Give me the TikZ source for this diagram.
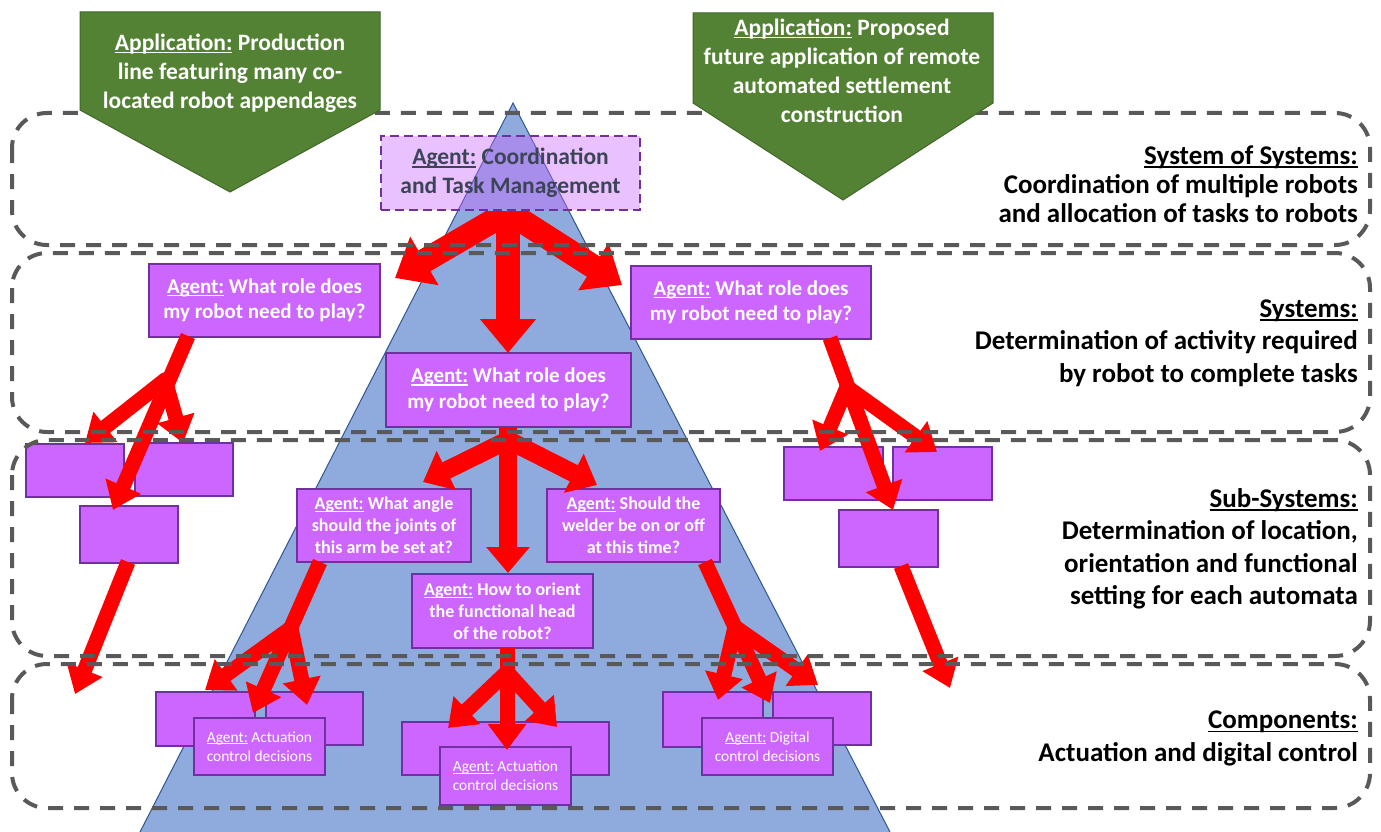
\documentclass[tikz,border=0pt]{standalone}
\usepackage{fontspec}
\setmainfont{Carlito}
\usetikzlibrary{arrows.meta}

\definecolor{tri}{HTML}{8FAADC}
\definecolor{triedge}{HTML}{2F5597}
\definecolor{agentfill}{HTML}{CC66FF}
\definecolor{agentedge}{HTML}{7030A0}
\definecolor{appgreen}{HTML}{548235}
\definecolor{appedge}{HTML}{41672A}
\definecolor{layergray}{HTML}{595959}
\definecolor{arrowred}{HTML}{FF0000}
\definecolor{slate}{HTML}{3B4556}

% underline drawn just under the baseline
\newcommand\ulin[1]{\setbox0\hbox{#1}\rlap{\rule[-0.13em]{\wd0}{0.065em}}\box0\relax}

\newcommand\appfont{\fontsize{23.5}{29}\selectfont\bfseries}
\newcommand\sysfont{\fontsize{21}{25.5}\selectfont\bfseries}
\newcommand\subfont{\fontsize{18}{21.8}\selectfont\bfseries}
\newcommand\compfont{\fontsize{15.4}{19}\selectfont}
\newcommand\lblfont{\fontsize{27}{32.5}\selectfont\bfseries}

\begin{document}
\begin{tikzpicture}[x=1pt,y=-1pt,
  agent/.style={draw=agentedge, fill=agentfill, line width=1.5pt, inner sep=0pt,
                text=white, align=center},
  topagent/.style={draw=agentedge, fill=agentfill, fill opacity=0.4, text opacity=1,
                   line width=2.2pt, dash pattern=on 9pt off 5pt, inner sep=0pt,
                   text=slate, align=center, font=\appfont},
  apptext/.style={text=white, align=center, font=\appfont, inner sep=0pt},
  lbl/.style={text=black, align=right, font=\lblfont, inner sep=0pt, anchor=east},
  layer/.style={draw=layergray, line width=4pt, dash pattern=on 15pt off 11pt,
                rounded corners=35pt},
  bigarrow/.style={draw=arrowred, line width=24pt, -{Triangle[width=54pt,length=34pt]}},
  midarrow/.style={draw=arrowred, line width=18pt, -{Triangle[width=42pt,length=26pt]}},
  smallarrow/.style={draw=arrowred, line width=15pt, -{Triangle[width=37pt,length=26pt]}},
  branch/.style={line cap=round},
]
\useasboundingbox (0,0) rectangle (1381,832);
\fill[white] (0,0) rectangle (1381,832);

% hierarchy pyramid
\fill[tri] (513,103) -- (890,832) -- (140,832) -- cycle;
\draw[triedge, line width=1pt] (140,832) -- (513,103) -- (890,832);

% ---- agent boxes ----
\node[topagent, minimum width=259pt, minimum height=74pt] (coord) at (510.5,173)
  {\ulin{Agent:} Coordination\\and Task Management};

\node[agent, font=\sysfont, minimum width=231pt, minimum height=73pt] (sysL) at (264.5,300.5)
  {\ulin{Agent:} What role does\\my robot need to play?};
\node[agent, font=\sysfont, minimum width=240pt, minimum height=73pt] (sysR) at (751,302.5)
  {\ulin{Agent:} What role does\\my robot need to play?};
\node[agent, font=\sysfont, minimum width=245pt, minimum height=74pt] (sysC) at (508.5,390)
  {\ulin{Agent:} What role does\\my robot need to play?};

% sub-system boxes, left robot
\node[agent, minimum width=98pt, minimum height=53pt] (subA) at (75,470.5) {};
\node[agent, minimum width=98pt, minimum height=53pt] (subB) at (184,469.5) {};
\node[agent, minimum width=98pt, minimum height=57pt] (subC) at (129,534.5) {};
% sub-system boxes, right robot
\node[agent, minimum width=99pt, minimum height=53pt] (subD) at (833.5,473.5) {};
\node[agent, minimum width=99pt, minimum height=53pt] (subE) at (942.5,473.5) {};
\node[agent, minimum width=99pt, minimum height=57pt] (subF) at (888.5,538.5) {};
% sub-system boxes, centre robot
\node[agent, font=\subfont, minimum width=174pt, minimum height=73pt] (angle) at (384,525.5)
  {\ulin{Agent:} What angle\\should the joints of\\this arm be set at?};
\node[agent, font=\subfont, minimum width=173pt, minimum height=73pt] (weld) at (633.5,525.5)
  {\ulin{Agent:} Should the\\welder be on or off\\at this time?};
\node[agent, font=\subfont, minimum width=181pt, minimum height=74pt] (orient) at (502.5,611)
  {\ulin{Agent:} How to orient\\the functional head\\of the robot?};

% component boxes
\node[agent, minimum width=99pt, minimum height=54pt] (compG) at (205.5,719) {};
\node[agent, minimum width=97pt, minimum height=53pt] (compH) at (314.5,718.5) {};
\node[agent, font=\compfont, minimum width=131pt, minimum height=57pt] (actL) at (259.5,746.5)
  {\ulin{Agent:} Actuation\\control decisions};
\node[agent, minimum width=207pt, minimum height=53pt] (compC) at (505.5,748.5) {};
\node[agent, font=\compfont, minimum width=131pt, minimum height=58pt] (actC) at (505.5,776)
  {\ulin{Agent:} Actuation\\control decisions};
\node[agent, minimum width=100pt, minimum height=55pt] (compI) at (713,719.5) {};
\node[agent, minimum width=98pt, minimum height=53pt] (compJ) at (822,718.5) {};
\node[agent, font=\compfont, minimum width=131pt, minimum height=57pt] (digR) at (767.5,746.5)
  {\ulin{Agent:} Digital\\control decisions};

% ---- decision flow arrows ----
\coordinate (topfork) at (508,212);
\coordinate (topL) at (395,278);
\coordinate (topR) at (622,285);
\coordinate (topD) at (508,353);
\begin{scope}
  \clip (0,211) rectangle (1381,832);
  \draw[bigarrow] (topfork) -- (topD);
  \draw[bigarrow] (topfork) -- (topL);
  \draw[bigarrow] (topfork) -- (topR);
\end{scope}

% left robot
\coordinate (sLout) at (188,336);
\coordinate (sLfork) at (165,380);
\coordinate (sLlong) at (113,510);
\coordinate (sLa) at (85,443);
\coordinate (sLb) at (183,443);
\draw[smallarrow] (sLout) -- (sLlong);
\draw[smallarrow, branch] (sLfork) -- (sLa);
\draw[smallarrow, branch] (sLfork) -- (sLb);
\coordinate (cOut) at (128,562);
\coordinate (cTip) at (75,694);
\draw[smallarrow] (cOut) -- (cTip);

% right robot
\coordinate (sRout) at (830,338);
\coordinate (sRfork) at (847,387);
\coordinate (sRlong) at (893,510);
\coordinate (sRa) at (820,451);
\coordinate (sRb) at (937,452);
\draw[smallarrow] (sRout) -- (sRlong);
\draw[smallarrow, branch] (sRfork) -- (sRa);
\draw[smallarrow, branch] (sRfork) -- (sRb);
\coordinate (fOut) at (901,566);
\coordinate (fTip) at (950,688);
\draw[smallarrow] (fOut) -- (fTip);

% centre robot
\coordinate (sCout) at (508,427);
\coordinate (sCfork) at (508,440);
\coordinate (sCdown) at (508,573);
\coordinate (sCa) at (423,482);
\coordinate (sCb) at (597,485);
\draw[midarrow] (sCout) -- (sCdown);
\draw[midarrow, branch] (sCfork) -- (sCa);
\draw[midarrow, branch] (sCfork) -- (sCb);

\coordinate (angOut) at (320,562);
\coordinate (angFork) at (291,628);
\coordinate (angLong) at (253,713);
\coordinate (angA) at (205,690);
\coordinate (angB) at (307,705);
\draw[smallarrow] (angOut) -- (angLong);
\draw[smallarrow, branch] (angFork) -- (angA);
\draw[smallarrow, branch] (angFork) -- (angB);

\coordinate (wOut) at (705,562);
\coordinate (wFork) at (735,627);
\coordinate (wLong) at (770,703);
\coordinate (wA) at (718,700);
\coordinate (wB) at (818,685);
\draw[smallarrow] (wOut) -- (wLong);
\draw[smallarrow, branch] (wFork) -- (wA);
\draw[smallarrow, branch] (wFork) -- (wB);

\coordinate (oOut) at (507,648);
\coordinate (oFork) at (507,672);
\coordinate (oDown) at (507,750);
\coordinate (oA) at (448,728);
\coordinate (oB) at (557,727);
\draw[smallarrow] (oOut) -- (oDown);
\draw[smallarrow, branch] (oFork) -- (oA);
\draw[smallarrow, branch] (oFork) -- (oB);

% ---- abstraction layers ----
\draw[layer] (12,113) rectangle (1370,245);
\draw[layer] (12,253) rectangle (1370,432);
\draw[layer] (12,440) rectangle (1370,656);
\draw[layer] (12,664) rectangle (1370,808);

% ---- application banners ----
\filldraw[fill=appgreen, draw=appedge, line width=1pt]
  (80,12) -- (380,12) -- (380,110) -- (230,192) -- (80,110) -- cycle;
\node[apptext] (appL) at (230,73)
  {\ulin{Application:} Production\\line featuring many co-\\located robot appendages};
\filldraw[fill=appgreen, draw=appedge, line width=1pt]
  (693,13) -- (993,13) -- (993,103) -- (843,200) -- (693,103) -- cycle;
\node[apptext] (appR) at (842,70.5)
  {\ulin{Application:} Proposed\\future application of remote\\automated settlement\\construction};

% ---- layer labels ----
\node[lbl, font=\fontsize{27}{29}\selectfont\bfseries] (lblSoS) at (1358,184)
  {\ulin{System of Systems:}\\Coordination of multiple robots\\and allocation of tasks to robots};
\node[lbl] (lblSys) at (1358,343)
  {\ulin{Systems:}\\Determination of activity required\\by robot to complete tasks};
\node[lbl] (lblSub) at (1358,549)
  {\ulin{Sub-Systems:}\\Determination of location,\\orientation and functional\\setting for each automata};
\node[lbl] (lblComp) at (1358,738.5)
  {\ulin{Components:}\\Actuation and digital control};
\end{tikzpicture}
\end{document}
